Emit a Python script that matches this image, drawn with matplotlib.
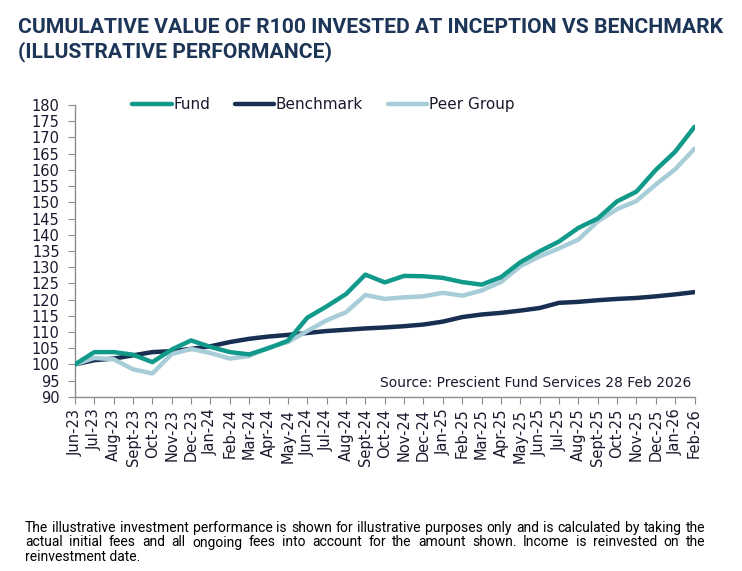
import matplotlib
matplotlib.use("Agg")
import matplotlib.pyplot as plt

# Datos
months = ["Jun-23", "Jul-23", "Aug-23", "Sept-23", "Oct-23", "Nov-23", "Dec-23",
          "Jan-24", "Feb-24", "Mar-24", "Apr-24", "May-24", "Jun-24", "Jul-24",
          "Aug-24", "Sept-24", "Oct-24", "Nov-24", "Dec-24", "Jan-25", "Feb-25",
          "Mar-25", "Apr-25", "May-25", "Jun-25", "Jul-25", "Aug-25", "Sept-25",
          "Oct-25", "Nov-25", "Dec-25", "Jan-26", "Feb-26"]
fund = [100, 103.8, 103.8, 103.0, 100.7, 104.6, 107.4, 105.4, 103.8, 103.1, 105.0,
        107.3, 114.4, 117.9, 121.7, 127.7, 125.3, 127.3, 127.2, 126.7, 125.4,
        124.6, 126.9, 131.5, 134.9, 137.9, 142.1, 145.0, 150.3, 153.3, 160.0,
        165.6, 173.3]
benchmark = [100, 101.3, 101.8, 102.8, 103.8, 104.1, 104.8, 105.6, 106.9, 107.9,
             108.6, 109.1, 109.7, 110.3, 110.7, 111.1, 111.4, 111.8, 112.3,
             113.2, 114.6, 115.4, 115.9, 116.6, 117.4, 119.0, 119.3, 119.8,
             120.2, 120.5, 121.0, 121.6, 122.3]
peer = [100, 102.0, 101.6, 98.5, 97.2, 103.2, 104.8, 103.5, 101.8, 102.6, 105.2,
        106.9, 110.3, 113.6, 116.1, 121.4, 120.2, 120.7, 121.0, 122.1, 121.2,
        122.8, 125.4, 130.3, 133.3, 135.8, 138.5, 144.1, 147.9, 150.4, 155.5,
        160.2, 166.5]
y_ticks = list(range(90, 181, 5))

fund_col = "#11998a"
bench_col = "#182f52"
peer_col = "#a7cdd8"
title_col = "#1d3557"
text_col = "#1a1a2e"

plt.rcParams['font.family'] = ['DejaVu Sans']

fig = plt.figure(figsize=(7.42, 5.71), dpi=100)
ax = fig.add_axes([0.101, 0.305, 0.835, 0.511])

x = list(range(len(months)))
ax.plot(x, fund, color=fund_col, lw=3.2, label="Fund", solid_capstyle="round", zorder=3)
ax.plot(x, benchmark, color=bench_col, lw=3.2, label="Benchmark", solid_capstyle="round")
ax.plot(x, peer, color=peer_col, lw=3.2, label="Peer Group", solid_capstyle="round")

ax.set_xlim(0, len(months) - 1)
ax.set_ylim(90, 180)
ax.set_yticks(y_ticks)
ax.set_yticklabels([str(v) for v in y_ticks], fontsize=10.5, color=text_col)
ax.set_xticks(x)
ax.set_xticklabels(months, rotation=90, fontsize=10.5, color=text_col)

for s in ["top", "right"]:
    ax.spines[s].set_visible(False)
for s in ["left", "bottom"]:
    ax.spines[s].set_color("#8c8c8c")
    ax.spines[s].set_linewidth(1)
ax.tick_params(axis="both", colors="#8c8c8c", length=5, labelcolor=text_col)
ax.tick_params(axis="y", pad=6)

leg = ax.legend(loc="upper left", bbox_to_anchor=(0.07, 1.075), ncol=3, frameon=False,
                fontsize=11, handlelength=2.6, handletextpad=0.1, columnspacing=1.6)
for t in leg.get_texts():
    t.set_color(text_col)

ax.text(0.995, 0.025, "Source: Prescient Fund Services 28 Feb 2026", transform=ax.transAxes,
        ha="right", va="bottom", fontsize=10, color=text_col)

fig.canvas.draw()
renderer = fig.canvas.get_renderer()
W, H = fig.bbox.width, fig.bbox.height

# Titulo ajustado al ancho de la referencia
title = fig.text(18 / W, 1 - 18 / H, "CUMULATIVE VALUE OF R100 INVESTED AT INCEPTION VS BENCHMARK\n(ILLUSTRATIVE PERFORMANCE)",
                 ha="left", va="top", fontsize=14, fontweight="bold", color=title_col,
                 linespacing=1.25, family="Roboto")
tw = title.get_window_extent(renderer).width
title.set_fontsize(14 * 708 / tw)

# Nota al pie, justificada a mano
note_lines = ["The illustrative investment performance is shown for illustrative purposes only and is calculated by taking the",
              "actual initial fees and all ongoing fees into account for the amount shown. Income is reinvested on the",
              "reinvestment date."]
left_px, right_px = 25, 705
top_px = 521
line_h = 14.5
probe = fig.text(0, 0, note_lines[0], fontsize=10, family="Roboto")
fs = 10 * 672 / probe.get_window_extent(renderer).width
probe.remove()
for i, line in enumerate(note_lines):
    ypix = H - (top_px + i * line_h)
    words = line.split(" ")
    if i == len(note_lines) - 1:
        fig.text(left_px / W, ypix / H, line, fontsize=fs, color="#000000", va="top", ha="left",
                 family="Roboto")
        continue
    widths = []
    objs = []
    for w in words:
        t = fig.text(0, ypix / H, w, fontsize=fs, color="#000000", va="top", ha="left",
                     family="Roboto")
        widths.append(t.get_window_extent(renderer).width)
        objs.append(t)
    gap = (right_px - left_px - sum(widths)) / (len(words) - 1)
    xp = left_px
    for t, wd in zip(objs, widths):
        t.set_x(xp / W)
        xp += wd + gap

fig.savefig("out.png", dpi=100)
